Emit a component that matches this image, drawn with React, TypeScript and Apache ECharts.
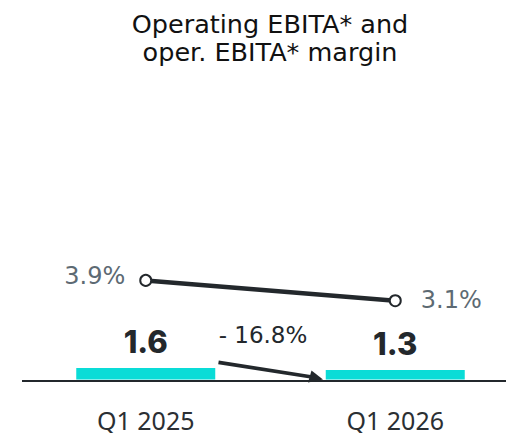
import React, { useEffect, useRef } from "react";
import * as echarts from "echarts";

const categories = ["Q1 2025", "Q1 2026"];
const ebitaValues = [1.6, 1.3];
const marginValues = [3.9, 3.1];
const changeLabel = "- 16.8%";
const titleText = "Operating EBITA* and\noper. EBITA* margin";

export default function App() {
  const ref = useRef<HTMLDivElement>(null);
  useEffect(() => {
    document.body.style.margin = "0";
    if (!ref.current) return;
    const chart = echarts.init(ref.current, null, { renderer: "svg" });
    chart.setOption({
      animation: false,
      backgroundColor: "#ffffff",
      title: {
        text: titleText,
        left: 265,
        textAlign: "center",
        top: 5,
        textStyle: {
          fontFamily: "DejaVu Sans",
          fontWeight: 400,
          fontSize: 25.5,
          lineHeight: 28,
          color: "#111111",
        },
      },
      grid: {
        left: 21,
        right: -14,
        top: 100,
        bottom: 53.5,
        outerBoundsMode: "none",
        containLabel: false,
      },
      xAxis: {
        type: "category",
        data: categories,
        axisLine: { show: false },
        axisTick: { show: false },
        axisLabel: {
          margin: 28,
          fontFamily: "Noto Sans",
          fontSize: 25,
          lineHeight: 25,
          color: "#2b2f33",
        },
      },
      yAxis: [
        { type: "value", min: 0, max: 38.75, show: false },
        { type: "value", min: 0, max: 11, show: false },
      ],
      series: [
        {
          type: "bar",
          data: ebitaValues,
          yAxisIndex: 0,
          barWidth: 139,
          itemStyle: { color: "#0adcd7" },
          label: {
            show: true,
            position: "top",
            distance: 11,
            fontFamily: "Inter",
            fontWeight: 800,
            fontSize: 31,
            color: "#23282c",
          },
        },
        {
          type: "line",
          data: marginValues.map((v, i) => ({
            value: v,
            label:
              i === 0
                ? { position: "left", distance: 14, offset: [0, -4] }
                : { position: "right", distance: 19, offset: [0, -1] },
          })),
          yAxisIndex: 1,
          symbol: "emptyCircle",
          symbolSize: 11,
          lineStyle: { color: "#23282c", width: 4.5 },
          itemStyle: { color: "#23282c", borderColor: "#23282c", borderWidth: 2 },
          label: {
            show: true,
            formatter: (p: any) => p.value.toFixed(1) + "%",
            fontFamily: "DejaVu Sans",
            fontWeight: 400,
            fontSize: 24,
            color: "#5d6a73",
          },
        },
      ],
      graphic: [
        {
          type: "line",
          shape: { x1: 22, y1: 381, x2: 506, y2: 381 },
          style: { stroke: "#23282c", lineWidth: 2 },
          z: 10,
        },
        {
          type: "text",
          x: 263,
          y: 335,
          style: {
            text: changeLabel,
            fontFamily: "DejaVu Sans",
            fontSize: 23,
            fill: "#23282c",
            textAlign: "center",
            textVerticalAlign: "middle",
          },
        },
        {
          type: "line",
          shape: { x1: 218.5, y1: 362.3, x2: 312, y2: 377 },
          style: { stroke: "#23282c", lineWidth: 3.7 },
          z: 10,
        },
        {
          type: "polygon",
          shape: { points: [[323, 379.5], [308, 382.5], [311.5, 370.5]] },
          style: { fill: "#23282c" },
          z: 10,
        },
      ],
    });
    return () => chart.dispose();
  }, []);
  return <div ref={ref} style={{ width: 506, height: 433 }} />;
}
